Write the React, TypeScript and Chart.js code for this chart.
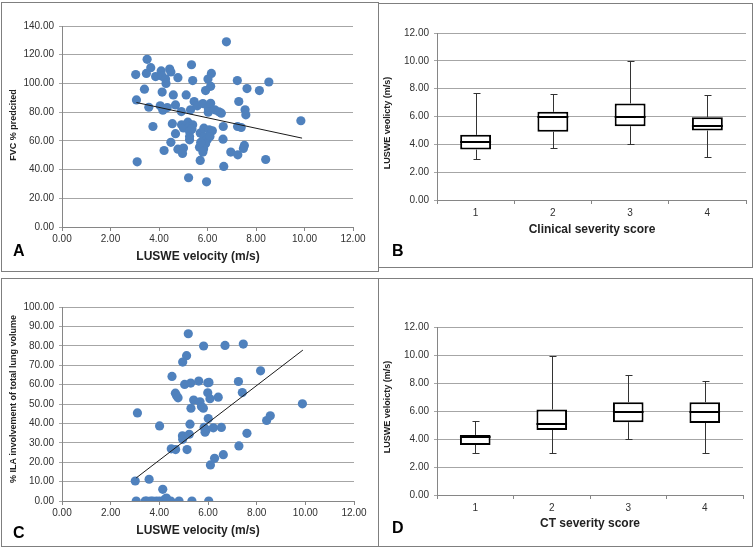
import React, { useEffect, useRef } from 'react';
import { Chart, registerables } from 'chart.js';

Chart.register(...registerables);

// ---------- Panel A: FVC % predicted vs LUSWE velocity ----------
const fvcVelocity = [
  3.04, 3.51, 3.66, 3.48, 3.86, 4.09, 4.13, 4.27, 4.29, 4.44,
  4.49, 4.78, 5.34, 5.39, 6.16, 6.02, 6.13, 5.92, 6.78, 7.23,
  8.53, 8.14, 7.63, 3.40, 3.07, 4.13, 4.59, 5.12, 3.58, 4.05,
  4.16, 4.34, 4.68, 4.92, 5.30, 5.45, 5.58, 5.81, 6.03, 6.13,
  6.03, 6.30, 6.47, 6.57, 7.29, 7.55, 7.58, 3.75, 4.55, 4.68,
  4.93, 5.01, 5.19, 5.27, 5.39, 5.26, 5.26, 5.26, 5.70, 5.85,
  6.07, 6.20, 5.85, 5.99, 6.10, 5.92, 5.67, 5.84, 6.65, 6.64,
  7.24, 7.39, 4.49, 4.78, 5.01, 4.97, 4.21, 3.10, 5.70, 6.67,
  5.22, 5.96, 6.96, 7.25, 7.48, 7.52, 8.40, 9.85, 5.72, 5.81,
  5.36,
];
const fvcPredicted = [
  106.2, 116.8, 111, 107, 104.8, 108.7, 105, 103, 100, 110,
  108, 104, 113, 102, 107, 103, 98, 95, 129, 102,
  101, 95, 96.4, 96, 88.5, 94, 92, 92, 83.4, 84.4,
  81.4, 83.2, 85, 80.4, 81.6, 87.4, 84.4, 86, 82.8, 86.2,
  80, 81.6, 80.2, 79.3, 87.4, 81.6, 78.1, 70, 72, 65,
  71.2, 69, 73, 70, 71.2, 66.5, 63, 60.7, 65.4, 68.8,
  67.7, 67, 63, 60.7, 63, 58, 55.6, 54.5, 70, 61.2,
  70, 69.3, 59, 54.2, 55, 51.2, 53.3, 45.4, 46.4, 42.2,
  34.3, 31.5, 52.2, 50.3, 54.7, 56.8, 47, 74, 58.9, 52.2,
  68.2,
];
const fvcTrendX = [3.07, 9.9];
const fvcTrendY = [86.7, 61.9];

// ---------- Panel C: % ILA involvement vs LUSWE velocity ----------
const ilaVelocity = [
  5.19, 5.82, 6.70, 7.45, 5.12, 4.96, 8.16, 4.52, 5.04, 5.29,
  5.62, 5.99, 6.04, 7.25, 7.41, 4.66, 4.71, 4.77, 5.41, 5.99,
  5.67, 6.08, 6.42, 5.30, 5.73, 5.81, 3.10, 9.88, 4.01, 5.26,
  6.01, 5.84, 5.93, 6.22, 6.55, 7.60, 8.41, 8.56, 4.95, 4.96,
  5.23, 5.88, 4.49, 4.67, 5.14, 7.27, 6.27, 6.63, 6.10, 3.01,
  3.58, 4.14, 3.05, 3.42, 3.48, 3.64, 3.88, 4.01, 4.15, 4.23,
  4.29, 4.33, 4.47, 4.81, 5.34, 6.03, 3.73,
];
const ilaPercent = [
  86.2, 79.9, 80.2, 80.9, 74.9, 71.6, 67.1, 64.2, 60.1, 60.8,
  61.8, 60.9, 61.1, 61.6, 55.9, 55.6, 54.2, 53.2, 52, 55.8,
  51.1, 52.7, 53.5, 47.8, 48.7, 47.8, 45.4, 50.1, 38.7, 39.6,
  42.5, 37.9, 36.7, 37.7, 37.9, 34.9, 41.5, 43.9, 33.6, 31.8,
  34.4, 35.5, 26.9, 26.5, 26.5, 28.4, 22, 23.9, 18.6, 10.3,
  11.2, 6.0, 0, 0, 0, 0, 0, 0, 0, 0.9,
  1.5, 0, 0, 0, 0, 0, 0,
];
const ilaTrendX = [3.05, 9.9];
const ilaTrendY = [11.9, 77.8];

// ---------- Panel B: Clinical severity score box plot ----------
const clinicalScores = ['1', '2', '3', '4'];
const clinicalMin = [2.98, 3.74, 4.0, 3.1];
const clinicalQ1 = [3.62, 4.9, 5.3, 4.99];
const clinicalMedian = [4.2, 6.0, 6.0, 5.33];
const clinicalQ3 = [4.68, 6.34, 6.94, 5.95];
const clinicalMax = [7.68, 7.61, 9.96, 7.51];

// ---------- Panel D: CT severity score box plot ----------
const ctScores = ['1', '2', '3', '4'];
const ctMin = [2.98, 2.98, 3.98, 3.03];
const ctQ1 = [3.58, 4.65, 5.2, 5.15];
const ctMedian = [4.13, 5.08, 5.96, 5.96];
const ctQ3 = [4.29, 6.11, 6.63, 6.63];
const ctMax = [5.3, 9.92, 8.56, 8.13];

const FONT = '"Liberation Sans", Arial, sans-serif';
const TICK_COLOR = '#303030';
const TITLE_COLOR = '#222';
const AXIS_COLOR = '#868686';
const GRID_COLOR = '#a6a6a6';
const DOT_COLOR = '#4f81bd';

const fmt = (v: any) => Number(v).toFixed(2);

// Draws the axis titles at the positions used by the original figure
function titlePlugin(opts: any) {
  return {
    id: 'placedTitles',
    afterDraw(chart: any) {
      const ctx = chart.ctx;
      ctx.save();
      ctx.fillStyle = TITLE_COLOR;
      ctx.textAlign = 'center';
      ctx.textBaseline = 'middle';
      ctx.font = `bold 12px ${FONT}`;
      ctx.fillText(opts.xTitle, opts.xTitlePos[0], opts.xTitlePos[1]);
      ctx.translate(opts.yTitlePos[0], opts.yTitlePos[1]);
      ctx.rotate(-Math.PI / 2);
      ctx.font = `bold 9px ${FONT}`;
      ctx.fillText(opts.yTitle, 0, 0);
      ctx.restore();
    },
  };
}

function scatterConfig(opts: any) {
  const pts = opts.xs.map((x: number, i: number) => ({ x, y: opts.ys[i] }));
  const trend = opts.tx.map((x: number, i: number) => ({ x, y: opts.ty[i] }));
  return {
    type: 'scatter',
    data: {
      datasets: [
        {
          type: 'line',
          data: trend,
          borderColor: '#1a1a1a',
          borderWidth: 1,
          pointRadius: 0,
          fill: false,
          showLine: true,
        },
        {
          type: 'scatter',
          data: pts,
          backgroundColor: DOT_COLOR,
          borderColor: DOT_COLOR,
          borderWidth: 0,
          pointRadius: 4.6,
          pointHoverRadius: 4.6,
        },
      ],
    },
    plugins: [titlePlugin(opts)],
    options: {
      responsive: false,
      animation: false,
      events: [],
      layout: { padding: opts.padding },
      plugins: { legend: { display: false }, tooltip: { enabled: false } },
      scales: {
        x: {
          type: 'linear',
          min: 0,
          max: 12,
          ticks: { stepSize: 2, callback: fmt, font: { family: FONT, size: 10 }, color: TICK_COLOR, padding: 2, maxRotation: 0 },
          grid: { drawOnChartArea: false, tickLength: 4, color: AXIS_COLOR },
          border: { color: AXIS_COLOR },
          afterFit: (s: any) => { s.height = opts.xHeight; },
        },
        y: {
          type: 'linear',
          min: 0,
          max: opts.yMax,
          ticks: { stepSize: opts.yStep, callback: fmt, font: { family: FONT, size: 10 }, color: TICK_COLOR, padding: 5 },
          grid: { color: GRID_COLOR, tickLength: 3 },
          border: { color: AXIS_COLOR },
          afterFit: (s: any) => { s.width = opts.yWidth; },
        },
      },
    },
  };
}

function boxPlugin(mins: number[], medians: number[], maxs: number[], q1: number[], q3: number[]) {
  return {
    id: 'boxWhiskers',
    beforeDatasetsDraw(chart: any) {
      const ctx = chart.ctx;
      const y = chart.scales.y;
      const meta = chart.getDatasetMeta(0);
      ctx.save();
      ctx.strokeStyle = '#333';
      ctx.lineWidth = 1;
      meta.data.forEach((bar: any, i: number) => {
        const x = Math.round(bar.x) + 0.5;
        const yMax = Math.round(y.getPixelForValue(maxs[i])) + 0.5;
        const yMin = Math.round(y.getPixelForValue(mins[i])) + 0.5;
        const yQ3 = y.getPixelForValue(q3[i]);
        const yQ1 = y.getPixelForValue(q1[i]);
        ctx.beginPath();
        ctx.moveTo(x, yMax);
        ctx.lineTo(x, yQ3);
        ctx.moveTo(x, yQ1);
        ctx.lineTo(x, yMin);
        ctx.moveTo(x - 3, yMax);
        ctx.lineTo(x + 4, yMax);
        ctx.moveTo(x - 3, yMin);
        ctx.lineTo(x + 4, yMin);
        ctx.stroke();
      });
      ctx.restore();
    },
    afterDatasetsDraw(chart: any) {
      const ctx = chart.ctx;
      const y = chart.scales.y;
      const meta = chart.getDatasetMeta(0);
      ctx.save();
      ctx.strokeStyle = '#000';
      ctx.lineWidth = 2;
      meta.data.forEach((bar: any, i: number) => {
        const ym = Math.round(y.getPixelForValue(medians[i]));
        ctx.beginPath();
        ctx.moveTo(bar.x - bar.width / 2, ym);
        ctx.lineTo(bar.x + bar.width / 2, ym);
        ctx.stroke();
      });
      ctx.restore();
    },
  };
}

function boxConfig(opts: any) {
  return {
    type: 'bar',
    data: {
      labels: opts.labels,
      datasets: [
        {
          data: opts.q1.map((q: number, i: number) => [q, opts.q3[i]]),
          backgroundColor: '#ffffff',
          borderColor: '#000000',
          borderWidth: 2,
          borderSkipped: false,
          barPercentage: 0.5,
          categoryPercentage: 0.8,
        },
      ],
    },
    plugins: [boxPlugin(opts.min, opts.median, opts.max, opts.q1, opts.q3), titlePlugin(opts)],
    options: {
      responsive: false,
      animation: false,
      events: [],
      layout: { padding: opts.padding },
      plugins: { legend: { display: false }, tooltip: { enabled: false } },
      scales: {
        x: {
          ticks: { font: { family: FONT, size: 10 }, color: TICK_COLOR, padding: 3 },
          grid: { offset: true, drawOnChartArea: false, tickLength: 4, color: AXIS_COLOR },
          border: { color: AXIS_COLOR },
          afterFit: (s: any) => { s.height = opts.xHeight; },
        },
        y: {
          min: 0,
          max: 12,
          ticks: { stepSize: 2, callback: fmt, font: { family: FONT, size: 10 }, color: TICK_COLOR, padding: 5 },
          grid: { color: GRID_COLOR, tickLength: 3 },
          border: { color: AXIS_COLOR },
          afterFit: (s: any) => { s.width = opts.yWidth; },
        },
      },
    },
  };
}

function Panel(props: any) {
  const ref = useRef<HTMLCanvasElement>(null);
  const { left, top, width, height, letter, lx, ly, make } = props;
  useEffect(() => {
    const chart = new Chart(ref.current as HTMLCanvasElement, make() as any);
    return () => chart.destroy();
  }, []);
  return (
    <div style={{ position: 'absolute', left, top, width, height }}>
      <canvas ref={ref} width={width} height={height} style={{ display: 'block', width, height }} />
      <div style={{ position: 'absolute', left: 0, top: 0, right: 0, bottom: 0, border: '1px solid #7f7f7f', pointerEvents: 'none' }} />
      <div style={{ position: 'absolute', left: lx, top: ly, fontFamily: FONT, fontWeight: 'bold', fontSize: 16, lineHeight: 1, color: '#000' }}>
        {letter}
      </div>
    </div>
  );
}

export default function App() {
  return (
    <div style={{ position: 'absolute', left: 0, top: 0, width: 753, height: 548, background: '#fff' }}>
      <Panel
        left={1} top={2} width={378} height={270} letter="A" lx={12} ly={241}
        make={() => scatterConfig({
          xs: fvcVelocity, ys: fvcPredicted, tx: fvcTrendX, ty: fvcTrendY,
          yMax: 140, yStep: 20,
          xTitle: 'LUSWE velocity (m/s)', yTitle: 'FVC % predcited',
          xTitlePos: [197, 255], yTitlePos: [13, 123],
          padding: { left: 0, top: 24, right: 26, bottom: 0 },
          xHeight: 45, yWidth: 61,
        })}
      />
      <Panel
        left={378} top={3} width={375} height={265} letter="B" lx={14} ly={240}
        make={() => boxConfig({
          labels: clinicalScores, min: clinicalMin, q1: clinicalQ1, median: clinicalMedian, q3: clinicalQ3, max: clinicalMax,
          xTitle: 'Clinical severity score', yTitle: 'LUSWE veolicty (m/s)',
          xTitlePos: [214, 227], yTitlePos: [10, 120],
          padding: { left: 0, top: 30, right: 7, bottom: 0 },
          xHeight: 68, yWidth: 59,
        })}
      />
      <Panel
        left={1} top={278} width={378} height={269} letter="C" lx={12} ly={247}
        make={() => scatterConfig({
          xs: ilaVelocity, ys: ilaPercent, tx: ilaTrendX, ty: ilaTrendY,
          yMax: 100, yStep: 10,
          xTitle: 'LUSWE velocity (m/s)', yTitle: '% ILA involvement of total lung volume',
          xTitlePos: [197, 253], yTitlePos: [13, 121],
          padding: { left: 0, top: 29, right: 25, bottom: 0 },
          xHeight: 46, yWidth: 61,
        })}
      />
      <Panel
        left={378} top={278} width={375} height={269} letter="D" lx={14} ly={242}
        make={() => boxConfig({
          labels: ctScores, min: ctMin, q1: ctQ1, median: ctMedian, q3: ctQ3, max: ctMax,
          xTitle: 'CT severity score', yTitle: 'LUSWE veloicty (m/s)',
          xTitlePos: [212, 246], yTitlePos: [10, 129],
          padding: { left: 0, top: 49, right: 10, bottom: 0 },
          xHeight: 52, yWidth: 59,
        })}
      />
    </div>
  );
}
